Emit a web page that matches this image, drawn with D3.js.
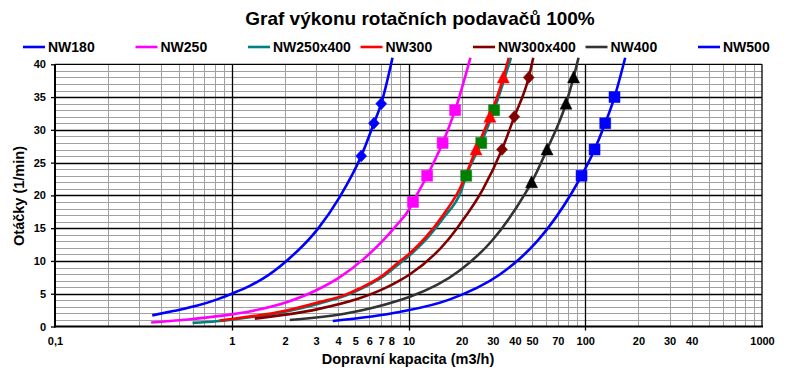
<!DOCTYPE html>
<html><head><meta charset="utf-8">
<script src="https://cdn.jsdelivr.net/npm/d3@7"></script>
<style>
html,body{margin:0;padding:0;background:#fff;}
svg{display:block;font-family:"Liberation Sans",Arial,sans-serif;font-weight:bold;}
</style></head>
<body><svg id="c" width="800" height="374"></svg>
<script>
// ---- data ----
const title = "Graf výkonu rotačních podavačů 100%";
const xTitle = "Dopravní kapacita (m3/h)";
const yTitle = "Otáčky (1/min)";
const seriesNames = ["NW180","NW250","NW250x400","NW300","NW300x400","NW400","NW500"];

const nw180 = [[0.355,1.7],[0.466,2.35],[0.632,3.15],[0.82,4.1],[1.0,5.0],[1.264,6.2],[1.5,7.3],[2.04,10.0],[3.07,14.9],[4.07,19.7],[5.4,26],[6.37,31],[7.01,34],[8.12,41]];
const nw180Marks = [[5.4,26],[6.37,31],[7.01,34]];

const nw250 = [[0.35,0.6],[0.605,1.15],[1.0,1.85],[1.26,2.3],[2.04,3.7],[3.07,5.65],[4.07,7.5],[5.52,10.2],[7.16,13.1],[8.52,15.4],[10.1,17.9],[10.6,19],[12.75,23],[15.6,28],[18.35,33],[22.4,41]];
const nw250Marks = [[10.6,19],[12.75,23],[15.6,28],[18.35,33]];

const nw250x400 = [[0.6,0.55],[0.82,0.8],[1.0,1.05],[2.04,2.3],[3.07,3.45],[4.45,4.75],[5.52,5.9],[7.16,7.6],[8.52,9.2],[10.1,10.8],[12.8,13.5],[15.9,16.7],[19.8,20.6],[21.2,23],[25.8,28],[30.5,33],[38.0,41]];
const nw250x400Marks = [[21.2,23],[25.8,28],[30.5,33]];

const nw300 = [[0.855,0.92],[1.0,1.15],[2.04,2.45],[3.07,3.65],[4.45,4.9],[5.28,5.8],[7.16,7.8],[8.52,9.5],[10.1,11.1],[12.6,13.7],[15.6,16.9],[19.4,20.9],[24.1,27],[28.9,32],[34.4,38],[36.9,41]];
const nw300Marks = [[24.1,27],[28.9,32],[34.4,38]];

const nw300x400 = [[1.35,1.2],[3.07,2.65],[5.28,4.3],[7.16,5.7],[8.89,7.0],[10.1,7.9],[16.7,13.2],[19.4,15.5],[26.3,20.9],[33.8,27],[39.7,32],[47.9,38],[50.8,41]];
const nw300x400Marks = [[33.8,27],[39.7,32],[47.9,38]];

const nw400 = [[2.13,1.0],[4.26,1.9],[8.89,4.0],[10.1,4.5],[19.4,8.5],[29.9,13.2],[46.2,20.5],[49.7,22],[60.8,27],[77.8,34],[85.9,38],[91.6,41]];
const nw400Marks = [[49.7,22],[60.8,27],[77.8,34],[85.9,38]];

const nw500 = [[3.73,0.85],[8.89,2.2],[17.0,4.1],[32.7,7.9],[42.4,10.3],[53.8,13.1],[84.8,20.6],[95.3,23],[112.9,27],[129.7,31],[146.4,35],[168.3,41]];
const nw500Marks = [[95.3,23],[112.9,27],[129.7,31],[146.4,35]];

const xTickValues = [0.1,1,2,3,4,5,6,7,8,10,20,30,40,50,70,100,200,300,400,1000];
const xTickLabels = ["0,1","1","2","3","4","5","6","7","8","10","20","30","40","50","70","100","20","30","40","1000"];
const yTickValues = [0,5,10,15,20,25,30,35,40];

// ---- styles ----
const lineColors = ["#0000FF","#FF00FF","#008080","#FF0000","#800000","#333333","#0000FF"];
const markColors = ["#0000FF","#FF00FF","#008000","#FF0000","#800000","#000000","#0000FF"];
const markShapes = ["diamond","square","square","triangle","diamond","triangle","square"];
const lines = [nw180,nw250,nw250x400,nw300,nw300x400,nw400,nw500];
const marks = [nw180Marks,nw250Marks,nw250x400Marks,nw300Marks,nw300x400Marks,nw400Marks,nw500Marks];

const L=55, R=762, T=64.3, B=326.5;
const svg = d3.select("#c");
const x = d3.scaleLog().domain([0.1,1000]).range([L,R]);
const y = d3.scaleLinear().domain([0,40]).range([B,T]);

// grid
const g = svg.append("g");
const minorX = x.ticks().filter(v => Math.abs(Math.log10(v) - Math.round(Math.log10(v))) > 1e-6);
g.selectAll(".mx").data(minorX).enter().append("line")
  .attr("x1",d=>Math.round(x(d))+0.5).attr("x2",d=>Math.round(x(d))+0.5)
  .attr("y1",T).attr("y2",B).attr("stroke","#a0a0a0").attr("stroke-width",1);
const minorY = d3.range(1,40).filter(v=>v%5!==0);
g.selectAll(".my").data(minorY).enter().append("line")
  .attr("x1",L).attr("x2",R)
  .attr("y1",d=>Math.round(y(d))+0.5).attr("y2",d=>Math.round(y(d))+0.5)
  .attr("stroke","#a0a0a0").attr("stroke-width",1);
g.selectAll(".MY").data([5,10,15,20,25,30,35]).enter().append("line")
  .attr("x1",L).attr("x2",R)
  .attr("y1",d=>Math.round(y(d))+0.5).attr("y2",d=>Math.round(y(d))+0.5)
  .attr("stroke","#000").attr("stroke-width",1.3);
g.selectAll(".MX").data([1,10,100]).enter().append("line")
  .attr("x1",d=>Math.round(x(d))+0.5).attr("x2",d=>Math.round(x(d))+0.5)
  .attr("y1",T).attr("y2",B+4).attr("stroke","#000").attr("stroke-width",1.3);
// frame
svg.append("line").attr("x1",L).attr("x2",R).attr("y1",T).attr("y2",T).attr("stroke","#000").attr("stroke-width",1.3);
svg.append("line").attr("x1",R).attr("x2",R).attr("y1",T).attr("y2",B).attr("stroke","#000").attr("stroke-width",1.3);
svg.append("line").attr("x1",L).attr("x2",L).attr("y1",T).attr("y2",B+1).attr("stroke","#000").attr("stroke-width",2);
svg.append("line").attr("x1",L-1).attr("x2",R+1).attr("y1",B).attr("y2",B).attr("stroke","#000").attr("stroke-width",2);

// axes labels
const yAxis = d3.axisLeft(y).tickValues(yTickValues).tickSize(4).tickFormat(d3.format("d"));
const ya = svg.append("g").attr("transform",`translate(${L},0)`).call(yAxis);
ya.select(".domain").remove();
ya.selectAll("text").attr("font-size",11).attr("font-weight","bold").attr("font-family","Liberation Sans, Arial").attr("fill","#000").attr("dx",-2);
ya.selectAll("line").attr("stroke","#000").attr("stroke-width",1.3);

const xAxis = d3.axisBottom(x).tickValues(xTickValues).tickSize(0).tickFormat((d,i)=>xTickLabels[i]);
const xa = svg.append("g").attr("transform",`translate(0,${B})`).call(xAxis);
xa.select(".domain").remove();
xa.selectAll("text").attr("font-size",11).attr("font-weight","bold").attr("font-family","Liberation Sans, Arial").attr("fill","#000").attr("dy","1.45em");

// series
const lineGen = d3.line().x(d=>x(d[0])).y(d=>y(d[1])).curve(d3.curveMonotoneX);
function markPath(shape, s){
  if(shape==="square") return `M${-s},${-s}H${s}V${s}H${-s}Z`;
  if(shape==="diamond") return `M0,${-s-0.5}L${s},0L0,${s+0.5}L${-s},0Z`;
  return `M0,${-s-1}L${s+0.5},${s}L${-s-0.5},${s}Z`;
}
lines.forEach((pts,i)=>{
  svg.append("path").attr("d",lineGen(pts)).attr("fill","none")
    .attr("stroke",lineColors[i]).attr("stroke-width",2.6).attr("stroke-linejoin","round");
});
lines.forEach((pts,i)=>{
  svg.selectAll(null).data(marks[i]).enter().append("path")
    .attr("transform",d=>`translate(${x(d[0])},${y(d[1])})`)
    .attr("d",markPath(markShapes[i], 5.5))
    .attr("fill",markColors[i]).attr("stroke",markColors[i]).attr("stroke-width",0.5);
});

// legend
const lg = svg.append("g");
seriesNames.forEach((n,i)=>{
  const x0 = 23 + i*112.5;
  lg.append("line").attr("x1",x0).attr("x2",x0+22).attr("y1",47).attr("y2",47)
    .attr("stroke",lineColors[i]).attr("stroke-width",2.6);
  lg.append("text").attr("x",x0+25).attr("y",52).attr("font-size",14).attr("font-weight","bold").text(n);
});

// titles
svg.append("text").attr("x",420).attr("y",25).attr("text-anchor","middle").attr("font-size",19).attr("font-weight","bold").text(title);
svg.append("text").attr("x",408).attr("y",364).attr("text-anchor","middle").attr("font-size",14.5).attr("font-weight","bold").text(xTitle);
svg.append("text").attr("transform","translate(24,196) rotate(-90)").attr("text-anchor","middle").attr("font-size",14.5).attr("font-weight","bold").text(yTitle);
</script></body></html>
